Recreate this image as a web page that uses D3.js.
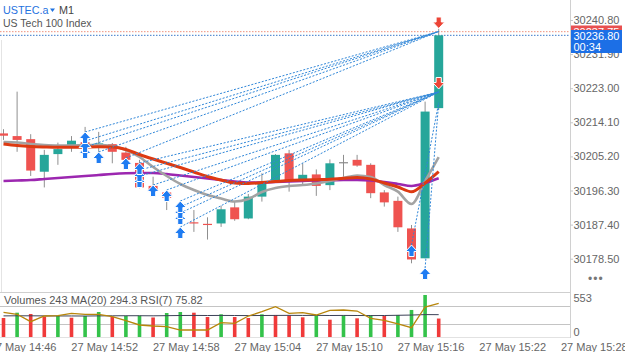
<!DOCTYPE html>
<html><head><meta charset="utf-8">
<script src="https://cdn.jsdelivr.net/npm/d3@7"></script>
<style>
html,body{margin:0;padding:0;background:#fff;overflow:hidden;}
svg{display:block;font-family:"Liberation Sans",Arial,sans-serif;}
</style></head><body>
<svg id="c" width="625" height="352"></svg>
<script>
// ---------- data ----------
const times = ["14:45","14:46","14:47","14:48","14:49","14:50","14:51","14:52","14:53","14:54","14:55","14:56","14:57","14:58","14:59","15:00","15:01","15:02","15:03","15:04","15:05","15:06","15:07","15:08","15:09","15:10","15:11","15:12","15:13","15:14","15:15","15:16","15:17"];
const open  = [30211.2,30210.5,30209.7,30201.2,30205.8,30207.9,30208.9,30208.0,30208.4,30206.2,30203.5,30197.5,30195.8,30190.8,30188.0,30187.6,30187.7,30191.9,30189.0,30194.7,30198.9,30206.0,30198.9,30200.5,30197.7,30203.7,30204.3,30203.0,30195.8,30193.6,30186.4,30178.6,30217.8];
const high  = [30212.3,30222.1,30211.0,30206.9,30208.8,30210.5,30212.9,30211.6,30208.7,30207.7,30204.3,30199.9,30196.0,30192.5,30191.2,30189.3,30192.3,30193.4,30195.4,30200.8,30205.8,30206.9,30203.4,30201.8,30204.4,30205.6,30205.6,30203.4,30196.4,30194.7,30187.3,30219.5,30238.5];
const low   = [30209.5,30206.4,30200.1,30197.1,30203.0,30206.4,30206.6,30206.4,30203.4,30203.8,30196.9,30195.5,30191.2,30189.9,30185.5,30183.5,30186.8,30188.4,30188.8,30193.4,30198.8,30196.0,30197.7,30194.9,30196.4,30199.9,30202.5,30194.3,30192.1,30185.5,30177.3,30178.6,30217.3];
const close = [30210.6,30209.5,30201.5,30205.6,30207.1,30209.3,30207.9,30208.6,30206.4,30204.3,30197.1,30195.9,30194.4,30190.3,30187.8,30187.4,30191.4,30188.8,30194.7,30198.6,30205.6,30198.9,30200.4,30197.5,30203.4,30203.7,30202.8,30195.6,30193.2,30186.7,30178.3,30216.9,30236.8];
const maFast = [30208.96,30208.83,30208.44,30208.17,30208.04,30208.04,30208.17,30208.17,30207.91,30206.87,30205.04,30202.43,30200.08,30198.0,30196.43,30195.12,30194.21,30193.43,30194.08,30195.91,30196.95,30197.47,30197.73,30198.13,30198.78,30199.56,30200.21,30199.82,30197.73,30195.99,30192.78,30198.78,30205.04];
const maMid = [30208.44,30208.04,30207.78,30207.65,30207.57,30207.57,30207.65,30207.73,30207.65,30207.0,30205.7,30204.52,30203.4,30202.3,30201.13,30199.95,30199.04,30198.26,30198.13,30198.39,30198.65,30198.91,30199.04,30199.12,30199.22,30199.48,30199.69,30199.3,30198.26,30197.21,30195.99,30198.26,30201.21];
const maSlow = [30198.78,30198.91,30199.04,30199.3,30199.56,30199.82,30200.08,30200.34,30200.61,30200.79,30200.87,30200.87,30200.61,30200.21,30199.82,30199.43,30199.04,30198.65,30198.39,30198.39,30198.52,30198.65,30198.78,30198.91,30198.96,30199.04,30199.04,30198.91,30198.52,30198.0,30197.47,30198.26,30199.48];
const volume = [250,320,303,267,277,254,277,329,267,277,281,257,316,329,320,263,299,263,250,299,290,285,259,286,228,286,246,286,277,290,356,553,243];
const volMA = [278,279,279,278,277,277,276,278,279,280,280,279,281,283,284,283,284,283,282,283,284,285,284,285,283,284,283,282,283,286,289,295,294];
const rsi = [56.2,51.9,35.7,48.1,48.8,54.0,51.9,51.9,46.6,37.9,28.5,26.3,24.8,17.5,17.5,17.5,33.5,32.2,48.1,57.5,68.5,54.0,55.4,50.3,60.6,61.3,59.0,43.0,38.7,30.7,22.6,67.8,75.82];
// trade deals
const buyIdx   = [6,6,6,7,9,10,10,10,11,12,13,13,13,13,30,31];
const buyPrice = [30211.57,30209.22,30207.65,30206.35,30204.78,30203.48,30201.65,30200.08,30197.73,30196.43,30193.56,30191.99,30190.43,30186.77,30182.07,30176.07];
const exitPrice= [30237.8,30237.8,30237.8,30237.8,30237.8,30222.0,30222.0,30222.0,30222.0,30222.0,30222.0,30222.0,30222.0,30222.0,30219.2,30219.2];
const sellIdx = [32,32];
const sellPrice = [30237.8,30222.0];
const priceTicks = [30240.80,30231.90,30223.00,30214.10,30205.20,30196.30,30187.40,30178.50];
const timeTickIdx = [1,7,13,19,25,31,37,43];
const timeTickLabels = ["27 May 14:46","27 May 14:52","27 May 14:58","27 May 15:04","27 May 15:10","27 May 15:16","27 May 15:22","27 May 15:28"];
const volTicks = [553,0];
const bid = 30236.80, ask = 30237.75;

// ---------- scales ----------
const svg = d3.select("#c");
const AX = 570;
const x = d3.scaleLinear().domain([0,43]).range([3, 3+13.6*43]);
const y = d3.scaleLinear().domain([30178.50,30240.80]).range([258.7,20]);
const yv = d3.scaleLinear().domain([0,553]).range([337,295]);
const yr = d3.scaleLinear().domain([30,70]).range([324.3,306]);

const GREEN="#26a69a", RED="#ef5350", WICK="#8f8f8f";

svg.append("defs").append("clipPath").attr("id","mainclip")
  .append("rect").attr("x",0).attr("y",0).attr("width",AX).attr("height",292);
svg.append("defs").append("clipPath").attr("id","volclip")
  .append("rect").attr("x",0).attr("y",293).attr("width",AX).attr("height",45);

// pane separators / axis line
svg.append("line").attr("x1",0).attr("x2",AX).attr("y1",292.5).attr("y2",292.5).attr("stroke","#cfcfcf");
svg.append("line").attr("x1",0).attr("x2",AX).attr("y1",337.5).attr("y2",337.5).attr("stroke","#e2e2e2");
[70,30].forEach(l=>svg.append("line").attr("x1",0).attr("x2",AX).attr("y1",Math.round(yr(l))+0.5).attr("y2",Math.round(yr(l))+0.5).attr("stroke","#c4c4c4"));
svg.append("line").attr("x1",AX+0.5).attr("x2",AX+0.5).attr("y1",0).attr("y2",338).attr("stroke","#d0d0d0");
svg.append("line").attr("x1",1.5).attr("x2",1.5).attr("y1",40).attr("y2",292).attr("stroke","#e4e4e4");

const main = svg.append("g").attr("clip-path","url(#mainclip)");

// bid / ask dotted lines
main.append("line").attr("x1",0).attr("x2",AX).attr("y1",y(ask)).attr("y2",y(ask))
  .attr("stroke","#f0907a").attr("stroke-dasharray","1.5,1.5").attr("stroke-width",1);
main.append("line").attr("x1",0).attr("x2",AX).attr("y1",y(bid)).attr("y2",y(bid))
  .attr("stroke","#3a78c8").attr("stroke-dasharray","1.5,1.5").attr("stroke-width",1);

// candles
const idx = d3.range(times.length);
main.selectAll("line.wick").data(idx).join("line").attr("class","wick")
  .attr("x1",i=>x(i)+0.5).attr("x2",i=>x(i)+0.5)
  .attr("y1",i=>y(high[i])).attr("y2",i=>y(low[i]))
  .attr("stroke",WICK).attr("stroke-width",1);
main.selectAll("rect.body").data(idx).join("rect").attr("class","body")
  .attr("x",i=>x(i)-4).attr("width",9)
  .attr("y",i=>y(Math.max(open[i],close[i])))
  .attr("height",i=>Math.max(1.2, Math.abs(y(open[i])-y(close[i]))))
  .attr("fill",i=>close[i]>open[i]?GREEN:(close[i]<open[i]?RED:"#8a8a8a"));

// moving averages
const line = arr => d3.line().x((d,i)=>x(i)+0.5).y(d=>y(d)).curve(d3.curveMonotoneX)(arr);
main.append("path").attr("d",line(maSlow)).attr("fill","none").attr("stroke","#9c27b0").attr("stroke-width",2.6);
main.append("path").attr("d",line(maFast)).attr("fill","none").attr("stroke","#a3a3a3").attr("stroke-width",2.6);
main.append("path").attr("d",line(maMid)).attr("fill","none").attr("stroke","#dd3a12").attr("stroke-width",3);

// deal lines
main.selectAll("line.deal").data(buyIdx.map((b,k)=>k)).join("line").attr("class","deal")
  .attr("x1",k=>x(buyIdx[k])+0.5).attr("y1",k=>y(buyPrice[k]))
  .attr("x2",k=>x(32)+0.5).attr("y2",k=>y(exitPrice[k]))
  .attr("stroke","#2f86d8").attr("stroke-width",1).attr("stroke-dasharray","2,1.6");

// buy arrows
const upArrow = "M0,0 L6,6.5 L2.6,6.5 L2.6,11.5 L-2.6,11.5 L-2.6,6.5 L-6,6.5 Z";
const downArrow = "M0,0 L6,-6.5 L2.6,-6.5 L2.6,-11.5 L-2.6,-11.5 L-2.6,-6.5 L-6,-6.5 Z";
main.selectAll("path.buy").data(buyIdx.map((b,k)=>k).reverse()).join("path").attr("class","buy")
  .attr("d",upArrow)
  .attr("transform",k=>`translate(${x(buyIdx[k])+0.5},${y(buyPrice[k])})`)
  .attr("fill","#1f7cf2").attr("stroke","#fff").attr("stroke-width",1);
main.selectAll("path.sell").data(sellIdx.map((s,k)=>k)).join("path").attr("class","sell")
  .attr("d",downArrow)
  .attr("transform",k=>`translate(${x(sellIdx[k])+0.5},${y(sellPrice[k])-3})`)
  .attr("fill","#ec4436").attr("stroke","#fff").attr("stroke-width",1);

// ---------- volume pane ----------
const vol = svg.append("g").attr("clip-path","url(#volclip)");
vol.selectAll("rect.v").data(idx).join("rect").attr("class","v")
  .attr("x",i=>x(i)-1.3).attr("width",3.6)
  .attr("y",i=>yv(volume[i])).attr("height",i=>yv(0)-yv(volume[i]))
  .attr("fill",i=>(i===0||volume[i]<volume[i-1])?"#f03a3a":"#34c24a");
vol.append("path").attr("d",d3.line().x((d,i)=>x(i)+0.5).y(d=>yv(d))(volMA))
  .attr("fill","none").attr("stroke","#3c4257").attr("stroke-width",1);
vol.append("path").attr("d",d3.line().x((d,i)=>x(i)+0.5).y(d=>yr(d))(rsi))
  .attr("fill","none").attr("stroke","#b8860b").attr("stroke-width",1.3);

svg.append("text").attr("x",4).attr("y",304).attr("font-size",11).attr("fill","#555")
  .text("Volumes 243 MA(20) 294.3 RSI(7) 75.82");

// ---------- axes ----------
const yAxis = d3.axisRight(y).tickValues(priceTicks).tickSize(3).tickFormat(d3.format(".2f"));
const ga = svg.append("g").attr("transform",`translate(${AX},0)`).call(yAxis);
ga.select(".domain").remove();
ga.selectAll("line").attr("stroke","#c8c8c8");
ga.selectAll("text").attr("fill","#666").attr("font-size",11).attr("x",3.5)
  .attr("font-family","Liberation Sans, Arial, sans-serif");

svg.selectAll("text.vt").data(volTicks).join("text").attr("class","vt")
  .attr("x",AX+3.5).attr("y",d=>d===0?yv(d)-1:yv(d)+7).attr("font-size",11).attr("fill","#666").text(d=>d);

const xAxis = d3.axisBottom(x).tickValues(timeTickIdx).tickSize(0).tickFormat((d,i)=>timeTickLabels[i]);
const gx = svg.append("g").attr("transform","translate(6,340)").call(xAxis);
gx.select(".domain").remove();
gx.selectAll("text").attr("fill","#666").attr("font-size",11).attr("dy","0.7em")
  .attr("font-family","Liberation Sans, Arial, sans-serif");

// price labels
svg.append("rect").attr("x",AX+1).attr("y",25.5).attr("width",51).attr("height",14).attr("fill","#e85050");
svg.append("text").attr("x",AX+3.5).attr("y",35.5).attr("font-size",11).attr("fill","#fff").text(d3.format(".2f")(ask));
svg.append("rect").attr("x",AX+1).attr("y",30).attr("width",51).attr("height",23).attr("fill","#1c6fe6");
svg.append("text").attr("x",AX+3.5).attr("y",40).attr("font-size",11).attr("fill","#fff").text(d3.format(".2f")(bid));
svg.append("text").attr("x",AX+3.5).attr("y",51).attr("font-size",11).attr("fill","#fff").text("00:34");

// dots
svg.append("text").attr("x",588).attr("y",283).attr("font-size",12).attr("fill","#777").attr("letter-spacing","1").text("•••");

// title
svg.append("text").attr("x",3).attr("y",14).attr("font-size",10.8).attr("fill","#1f72e0").text("USTEC.a");
svg.append("path").attr("d","M50,8.5 L55,8.5 L52.5,12 Z").attr("fill","#1f72e0");
svg.append("text").attr("x",59).attr("y",14).attr("font-size",10.8).attr("fill","#444").text("M1");
svg.append("text").attr("x",3).attr("y",26.5).attr("font-size",10.5).attr("fill","#555").text("US Tech 100 Index");
</script>
</body></html>
